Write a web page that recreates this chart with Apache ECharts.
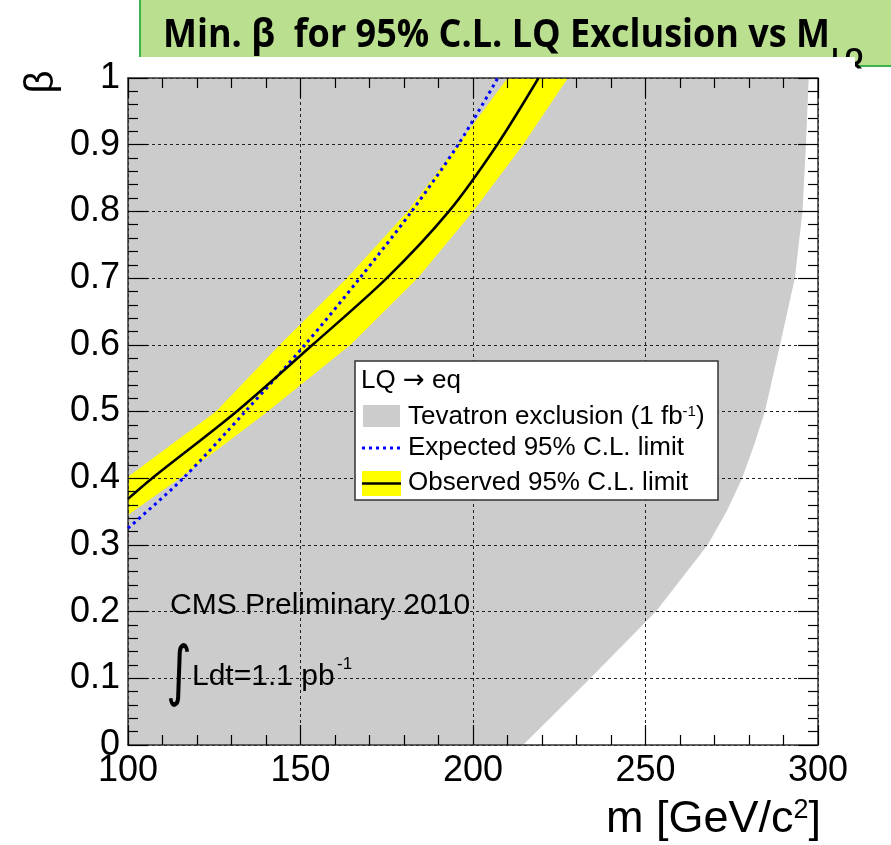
<!DOCTYPE html>
<html>
<head>
<meta charset="utf-8">
<script src="https://cdn.jsdelivr.net/npm/echarts@6/dist/echarts.min.js"></script>
<style>
html, body { margin: 0; padding: 0; background: #fff; }
#main { width: 891px; height: 845px; }
</style>
</head>
<body>
<div id="main"></div>
<script>
// 观测极限 (m, beta)
var obsMass = [100, 107, 131.5, 153.5, 175, 193, 207, 219];
var obsBeta = [0.369, 0.4, 0.5, 0.6, 0.7, 0.8, 0.9, 1.0];
// 期望极限
var expMass = [100, 116, 134, 151.3, 167.2, 182.2, 195.7, 207.2];
var expBeta = [0.325, 0.4, 0.5, 0.6, 0.7, 0.8, 0.9, 1.0];
// 黄色误差带 上沿 / 下沿
var bandUpMass = [100, 125.5, 144, 163.5, 181, 195.7, 210];
var bandUpBeta = [0.402, 0.5, 0.6, 0.7, 0.8, 0.9, 1.0];
var bandLowMass = [100, 115, 140.5, 164.5, 184, 200, 214.5, 227.5];
var bandLowBeta = [0.345, 0.4, 0.5, 0.6, 0.7, 0.8, 0.9, 1.0];
// Tevatron 排除区域边界
var tevMass = [100, 100, 297.3, 296.5, 295.5, 293.3, 289, 284.6, 281.5, 278, 273.5, 268, 253, 234, 214.5];
var tevBeta = [0, 1, 1, 0.9, 0.8, 0.7, 0.6, 0.5, 0.45, 0.4, 0.35, 0.3, 0.2, 0.1, 0];

var titleText = 'Min. \u03b2  for 95% C.L. LQ Exclusion vs M';
var titleSub = 'LQ';

var chart = echarts.init(document.getElementById('main'));
var FONT = '"Liberation Sans", Arial, sans-serif';

function pairs(xs, ys) {
    return xs.map(function (x, i) { return [x, ys[i]]; });
}

function polygonItem(pts, color) {
    return function (params, api) {
        var points = pts.map(function (p) { return api.coord(p); });
        return { type: 'polygon', shape: { points: points }, style: { fill: color } };
    };
}

var bandPts = pairs(bandUpMass, bandUpBeta).concat(pairs(bandLowMass, bandLowBeta).reverse());

// 标题宽度 -> 横向压缩
var ctx = document.createElement('canvas').getContext('2d');
ctx.font = 'bold 40px "Open Sans"';
var titleW = ctx.measureText(titleText).width;
var titleScale = 667 / titleW;

function axisCommon(pos, showLabel) {
    return {
        type: 'value',
        position: pos,
        z: 3,
        axisLine: { show: true, onZero: false, lineStyle: { color: '#333', width: 1.5 } },
        axisTick: { show: true, inside: true, length: 20, lineStyle: { color: '#000', width: 1.2 } },
        minorTick: { show: true, splitNumber: 5, length: 10, lineStyle: { color: '#000', width: 1.2 } },
        axisLabel: { show: showLabel, color: '#000', fontSize: 36, fontFamily: FONT, margin: 8 },
        splitLine: { show: showLabel, lineStyle: { color: '#222', width: 1, type: [3, 3] } }
    };
}

var xBottom = axisCommon('bottom', true);
xBottom.min = 100; xBottom.max = 300; xBottom.interval = 50;
var xTop = axisCommon('top', false);
xTop.min = 100; xTop.max = 300; xTop.interval = 50;
var yLeft = axisCommon('left', true);
yLeft.min = 0; yLeft.max = 1; yLeft.interval = 0.1;
var yRight = axisCommon('right', false);
yRight.min = 0; yRight.max = 1; yRight.interval = 0.1;

var option = {
    backgroundColor: '#fff',
    animation: false,
    grid: { left: 128, right: 73, top: 78, bottom: 100 },
    xAxis: [xBottom, xTop],
    yAxis: [yLeft, yRight],
    series: [
        {
            name: 'Tevatron',
            type: 'custom',
            silent: true,
            z: 1,
            data: [[100, 0]],
            renderItem: polygonItem(pairs(tevMass, tevBeta), '#cccccc')
        },
        {
            name: 'band',
            type: 'custom',
            silent: true,
            z: 2,
            data: [[100, 0]],
            renderItem: polygonItem(bandPts, '#ffff00')
        },
        {
            name: 'Expected',
            type: 'line',
            z: 4,
            data: pairs(expMass, expBeta),
            smooth: 0.3,
            showSymbol: false,
            lineStyle: { color: '#0000ff', width: 3, type: [3, 4] }
        },
        {
            name: 'Observed',
            type: 'line',
            z: 4,
            data: pairs(obsMass, obsBeta),
            smooth: 0.3,
            showSymbol: false,
            lineStyle: { color: '#000', width: 2.5 }
        }
    ],
    graphic: [
        // 绿色标题框
        { type: 'rect', z: 0, shape: { x: 140, y: -5, width: 760, height: 71 },
          style: { fill: '#b9df8f', stroke: '#3cb44b', lineWidth: 2 } },
        { type: 'text', z: 0, x: 163, y: 36, scaleX: titleScale,
          style: { text: titleText, font: 'bold 40px "Open Sans"', fill: '#000', verticalAlign: 'middle' } },
        { type: 'text', z: 0, x: 163 + titleW * titleScale + 1, y: 58,
          style: { text: titleSub, font: 'bold 24px "Open Sans"', fill: '#000', verticalAlign: 'middle' } },
        { type: 'rect', z: 1, shape: { x: 0, y: 57, width: 855, height: 20 }, style: { fill: '#fff' } },
        // 轴标题
        { type: 'text', z: 5, x: 42, y: 82, rotation: Math.PI / 2,
          style: { text: '\u03b2', fontSize: 40, fontFamily: FONT, fill: '#000', align: 'center', verticalAlign: 'middle' } },
        { type: 'text', z: 5, x: 821, y: 820,
          style: { text: '{n|m [GeV/c}{s|2}{n|]}', align: 'right', verticalAlign: 'middle',
                   rich: { n: { fontSize: 45, fontFamily: FONT, fill: '#000' },
                           s: { fontSize: 27, fontFamily: FONT, fill: '#000', verticalAlign: 'top' } } } },
        // CMS 文字
        { type: 'text', z: 5, x: 170, y: 606,
          style: { text: 'CMS Preliminary 2010', fontSize: 30, fontFamily: FONT, fill: '#000', verticalAlign: 'middle' } },
        { type: 'text', z: 5, x: 166, y: 676, scaleX: 0.75,
          style: { text: '\u222b', fontSize: 66, fontFamily: '"DejaVu Sans"', fill: '#000', verticalAlign: 'middle' } },
        { type: 'text', z: 5, x: 192, y: 677,
          style: { text: 'Ldt=1.1 pb', fontSize: 30, fontFamily: FONT, fill: '#000', verticalAlign: 'middle' } },
        { type: 'text', z: 5, x: 337, y: 664,
          style: { text: '-1', fontSize: 17, fontFamily: FONT, fill: '#000', verticalAlign: 'middle' } },
        // 图例
        {
            type: 'group', z: 10, x: 355, y: 361,
            children: [
                { type: 'rect', z: 10, shape: { x: 0, y: 0, width: 363, height: 139 },
                  style: { fill: '#fff', stroke: '#333', lineWidth: 1.5 } },
                { type: 'text', z: 11, x: 6, y: 20,
                  style: { text: '{n|LQ }{a|\u2192}{n| eq}', verticalAlign: 'middle',
                           rich: { n: { fontSize: 26, fontFamily: FONT, fill: '#000' },
                                   a: { fontSize: 26, fontFamily: '"DejaVu Sans"', fill: '#000' } } } },
                { type: 'rect', z: 11, shape: { x: 8, y: 44, width: 37, height: 22 }, style: { fill: '#cccccc' } },
                { type: 'text', z: 11, x: 53, y: 56,
                  style: { text: '{n|Tevatron exclusion (1 fb}{s|-1}{n|)}', verticalAlign: 'middle',
                           rich: { n: { fontSize: 26, fontFamily: FONT, fill: '#000' },
                                   s: { fontSize: 15, fontFamily: FONT, fill: '#000', verticalAlign: 'top' } } } },
                { type: 'line', z: 11, shape: { x1: 7, y1: 87, x2: 45, y2: 87 },
                  style: { stroke: '#0000ff', lineWidth: 3, lineDash: [3, 4] } },
                { type: 'text', z: 11, x: 53, y: 87,
                  style: { text: 'Expected 95% C.L. limit', fontSize: 26, fontFamily: FONT, fill: '#000', verticalAlign: 'middle' } },
                { type: 'rect', z: 11, shape: { x: 7, y: 110, width: 39, height: 25 }, style: { fill: '#ffff00' } },
                { type: 'line', z: 12, shape: { x1: 7, y1: 122.5, x2: 46, y2: 122.5 },
                  style: { stroke: '#000', lineWidth: 2.5 } },
                { type: 'text', z: 11, x: 53, y: 122,
                  style: { text: 'Observed 95% C.L. limit', fontSize: 26, fontFamily: FONT, fill: '#000', verticalAlign: 'middle' } }
            ]
        }
    ]
};

chart.setOption(option);
</script>
</body>
</html>
